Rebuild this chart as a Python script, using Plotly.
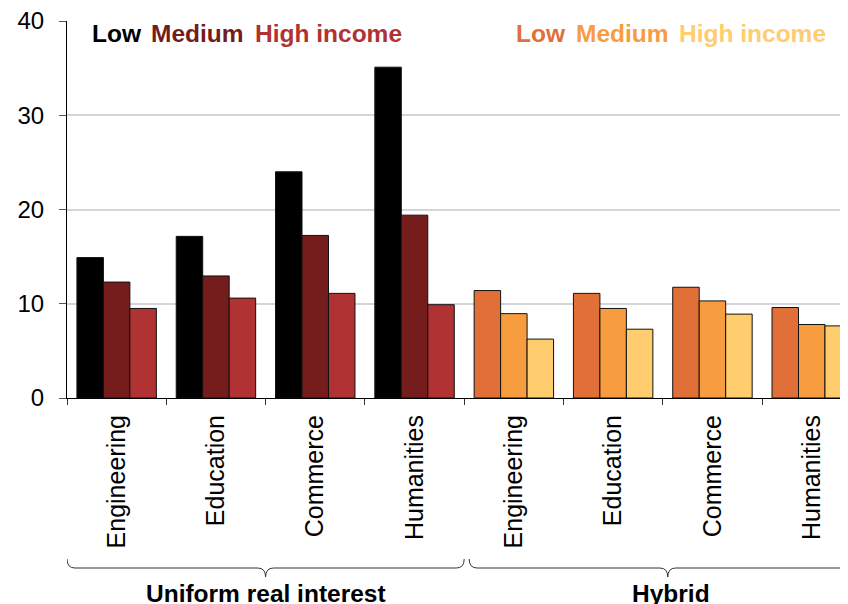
import plotly.graph_objects as go

categories = ["Engineering", "Education", "Commerce", "Humanities"]
groups = ["Uniform real interest", "Hybrid"]
uniform_low = [14.9, 17.15, 24.0, 35.1]
uniform_med = [12.3, 12.95, 17.25, 19.4]
uniform_high = [9.5, 10.6, 11.1, 9.9]
hybrid_low = [11.4, 11.1, 11.75, 9.6]
hybrid_med = [8.95, 9.5, 10.3, 7.8]
hybrid_high = [6.25, 7.3, 8.9, 7.65]
y_ticks = [0, 10, 20, 30, 40]
names = ["Low", "Medium", "High income"]

uni_colors = ["#000000", "#751c1c", "#b03232"]
hyb_colors = ["#e07038", "#f89c40", "#ffcc6e"]

FONT = "Liberation Sans, Arial, sans-serif"
n = len(categories)
xpos = list(range(2 * n))
ticktext = categories + categories

fig = go.Figure()
series = [(uniform_low, hybrid_low), (uniform_med, hybrid_med), (uniform_high, hybrid_high)]
for i, (u, h) in enumerate(series):
    fig.add_trace(go.Bar(
        x=xpos, y=u + h, name=names[i],
        marker=dict(color=[uni_colors[i]] * n + [hyb_colors[i]] * n,
                    line=dict(color="#111111", width=1)),
        showlegend=False, hoverinfo="skip",
    ))

# page offset (browser body margin) compensation
OFF = 8
W, Hgt = 848, 604
left_px, top_px, bot_px, right_px = 67, 21, 398, 856
H = bot_px - top_px
PW = right_px - left_px
unit_px = 99.3
x_max = (right_px - left_px) / unit_px - 0.5

def py(ypix):
    return (bot_px - ypix) / H

def px(xpix):
    return (xpix - left_px) / PW

def brace(x0, x1):
    xc = (x0 + x1) / 2
    d = 0.08
    yt, yh, ys = py(559), py(568), py(577)
    return (f"M {x0},{yt} Q {x0},{yh} {x0+d},{yh} L {xc-d},{yh} "
            f"Q {xc},{yh} {xc},{ys} Q {xc},{yh} {xc+d},{yh} "
            f"L {x1-d},{yh} Q {x1},{yh} {x1},{yt}")

shapes = [
    dict(type="path", xref="x", yref="paper", path=brace(-0.5, n - 0.5),
         line=dict(color="#333333", width=1)),
    dict(type="path", xref="x", yref="paper", path=brace(n - 0.45, 2 * n - 0.45),
         line=dict(color="#333333", width=1)),
]

annotations = [
    dict(xref="x", yref="paper", x=(n - 1) / 2, y=py(593), yanchor="middle",
         text=f"<b>{groups[0]}</b>", showarrow=False,
         font=dict(family=FONT, size=24.5, color="#000000")),
    dict(xref="x", yref="paper", x=n - 0.42 + n / 2, y=py(593), yanchor="middle",
         text=f"<b>{groups[1]}</b>", showarrow=False,
         font=dict(family=FONT, size=24.5, color="#000000")),
]

legend_left = [[90, 149, 253], [514, 574, 677]]
for colors, lefts in zip([uni_colors, hyb_colors], legend_left):
    for c, nm, lx in zip(colors, names, lefts):
        annotations.append(dict(xref="paper", yref="paper", x=px(lx), y=py(34),
                                xanchor="left", yanchor="middle", text=f"<b>{nm}</b>",
                                showarrow=False,
                                font=dict(family=FONT, size=24.5, color=c)))

fig.update_layout(
    template="none",
    width=W, height=Hgt,
    margin=dict(l=left_px - OFF, r=0, t=top_px - OFF, b=Hgt - (bot_px - OFF),
                autoexpand=False),
    paper_bgcolor="white", plot_bgcolor="white",
    barmode="group", bargap=0.2, bargroupgap=0,
    font=dict(family=FONT, size=24, color="#000000"),
    shapes=shapes, annotations=annotations,
    xaxis=dict(
        automargin=False,
        range=[-0.5, x_max], tickmode="array", tickvals=xpos, ticktext=ticktext,
        tickangle=-90, ticks="", showline=True, linecolor="#000000", linewidth=1,
        showgrid=False, zeroline=False, ticklabelstandoff=6,
        ticklabeloverflow="allow",
        tickfont=dict(family=FONT, size=25, color="#000000"),
        minor=dict(tickmode="array", tickvals=[v - 0.5 for v in range(2 * n + 1)],
                   ticks="outside", ticklen=6, tickcolor="#333333", showgrid=False),
    ),
    yaxis=dict(
        automargin=False,
        range=[0, 40], tickmode="array", tickvals=y_ticks,
        ticks="outside", ticklen=7, tickcolor="#555555",
        showline=True, linecolor="#000000", linewidth=1,
        showgrid=True, gridcolor="#d4d5da", gridwidth=1.5, zeroline=False,
        ticklabelstandoff=10, ticklabeloverflow="allow",
        tickfont=dict(family=FONT, size=24, color="#000000"),
    ),
)

fig.write_html("out.html")
